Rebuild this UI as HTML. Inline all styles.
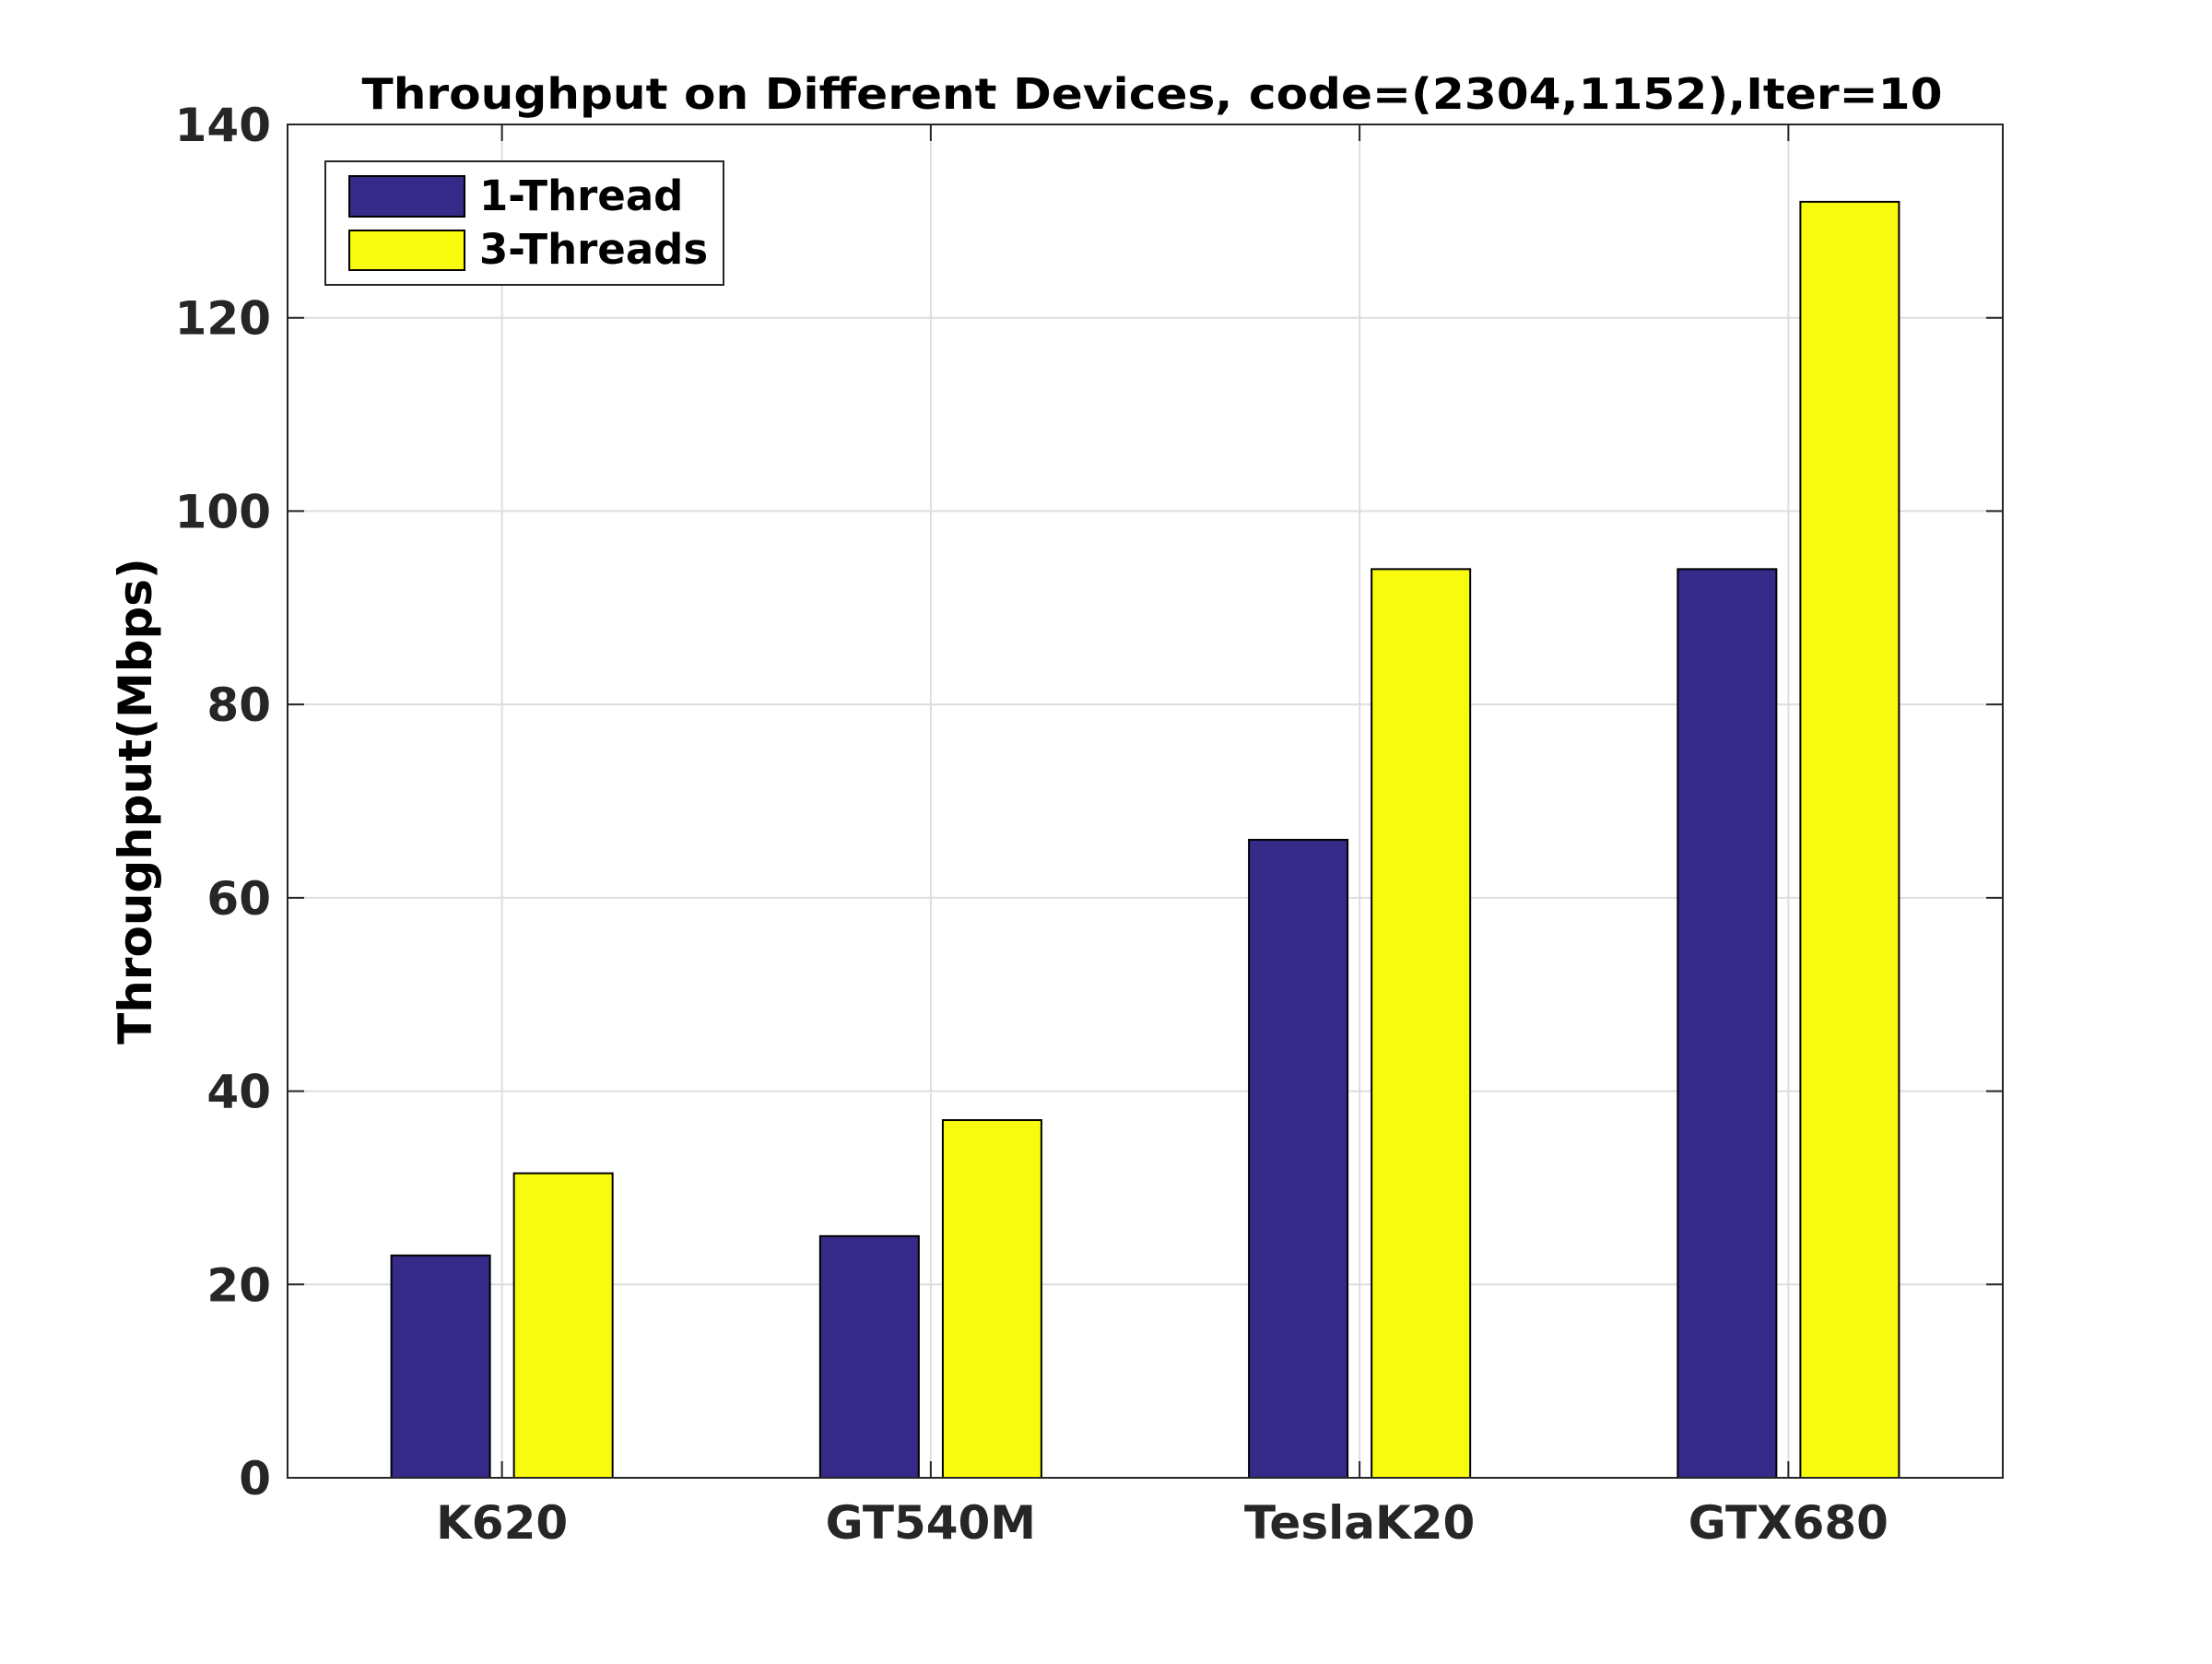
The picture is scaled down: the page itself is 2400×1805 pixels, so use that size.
<!DOCTYPE html>
<html><head><meta charset="utf-8"><style>
html,body{margin:0;padding:0;background:#fff;}
svg text{font-family:"DejaVu Sans","Liberation Sans",sans-serif;font-weight:bold;}
</style></head><body>
<svg id="chart" width="2400" height="1800" viewBox="0 0 2400 1800" xmlns="http://www.w3.org/2000/svg">
<rect width="2400" height="1800" fill="#fff"/>
<g id="grid"></g><g id="bars"></g><g id="axes"></g>
<text x="1250" y="118" text-anchor="middle" font-size="46" fill="#000" textLength="1715" lengthAdjust="spacingAndGlyphs">Throughput on Different Devices, code=(2304,1152),Iter=10</text>
<text transform="translate(164,869) rotate(-90)" text-anchor="middle" font-size="50" fill="#000">Throughput(Mbps)</text>
<g>
<rect x="353" y="175" width="432" height="134" fill="#fff" stroke="#262626" stroke-width="2"/>
<rect x="379" y="191" width="125" height="44" fill="#352a87" stroke="#000" stroke-width="2"/>
<text x="520" y="228" font-size="45" fill="#000">1-Thread</text>
<rect x="379" y="250" width="125" height="43" fill="#f9fb0e" stroke="#000" stroke-width="2"/>
<text x="520" y="286" font-size="45" fill="#000">3-Threads</text>
</g>
</svg>
<script>
const categories = ["K620", "GT540M", "TeslaK20", "GTX680"];
const oneThread = [23, 25, 66, 94];
const threeThreads = [31.5, 37, 94, 132];
const yTicks = [0, 20, 40, 60, 80, 100, 120, 140];

const NS = "http://www.w3.org/2000/svg";
const L = 312, R = 2173, T = 135, B = 1603;
const xScale = v => L + (v - 0.5) / 4 * (R - L);
const yScale = v => B - v / 140 * (B - T);
function mk(tag, attrs, parent) {
  const e = document.createElementNS(NS, tag);
  for (const k in attrs) e.setAttribute(k, attrs[k]);
  parent.appendChild(e);
  return e;
}
const grid = document.getElementById('grid'), bars = document.getElementById('bars'), axes = document.getElementById('axes');
yTicks.forEach(t => {
  const y = yScale(t);
  const g = mk('line', {x1: L, x2: R, y1: y, y2: y, stroke: '#dedede', 'stroke-width': 2}, grid);
  
  
  const t1 = mk('line', {x1: L, x2: L + 18, y1: y, y2: y, stroke: '#262626', 'stroke-width': 2}, axes);
  
  
  mk('line', {x1: R, x2: R - 18, y1: y, y2: y, stroke: '#262626', 'stroke-width': 2}, axes);
  const lb = mk('text', {x: L - 18, y: y + 18, 'text-anchor': 'end', 'font-size': 50, fill: '#262626'}, axes);
  lb.textContent = t;
  
  
});
const hw = 0.115, off = 0.143;
categories.forEach((c, i) => {
  const x = xScale(i + 1);
  const g = mk('line', {x1: x, x2: x, y1: T, y2: B, stroke: '#dedede', 'stroke-width': 2}, grid);
  
  
  const b1x0 = xScale(i + 1 - off - hw), b1x1 = xScale(i + 1 - off + hw);
  const b1 = mk('rect', {x: b1x0, y: yScale(oneThread[i]), width: b1x1 - b1x0, height: yScale(0) - yScale(oneThread[i]), fill: '#352a87', stroke: '#000', 'stroke-width': 2}, bars);
  
  
  const b2x0 = xScale(i + 1 + off - hw), b2x1 = xScale(i + 1 + off + hw);
  const b2 = mk('rect', {x: b2x0, y: yScale(threeThreads[i]), width: b2x1 - b2x0, height: yScale(0) - yScale(threeThreads[i]), fill: '#f9fb0e', stroke: '#000', 'stroke-width': 2}, bars);
  
  
  const tk = mk('line', {x1: x, x2: x, y1: B, y2: B - 18, stroke: '#262626', 'stroke-width': 2}, axes);
  
  
  mk('line', {x1: x, x2: x, y1: T, y2: T + 18, stroke: '#262626', 'stroke-width': 2}, axes);
  const lb = mk('text', {x: x, y: 1669, 'text-anchor': 'middle', 'font-size': 50, fill: '#262626'}, axes);
  lb.textContent = c;
  
  
});
const box = mk('rect', {x: L, y: T, width: R - L, height: B - T, fill: 'none', stroke: '#262626', 'stroke-width': 2}, axes);


</script>
</body></html>
